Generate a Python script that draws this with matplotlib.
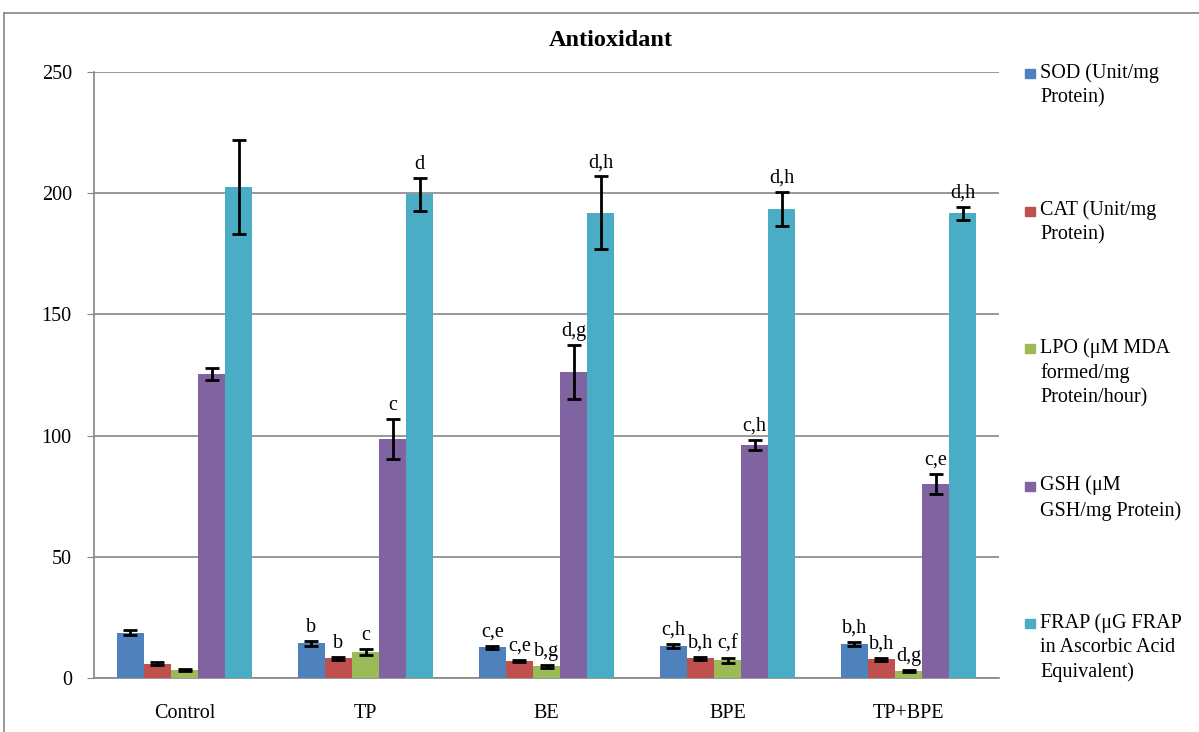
import matplotlib
matplotlib.use("Agg")
import matplotlib.pyplot as plt
from matplotlib.lines import Line2D
from matplotlib.patches import Rectangle
import numpy as np

plt.rcParams['font.family'] = ['Liberation Serif', 'DejaVu Serif']

groups = ["Control", "TP", "BE", "BPE", "TP+BPE"]
series = [
    "SOD (Unit/mg\nProtein)",
    "CAT (Unit/mg\nProtein)",
    "LPO (\u03bcM MDA\nformed/mg\nProtein/hour)",
    "GSH (\u03bcM\nGSH/mg Protein)",
    "FRAP (\u03bcG FRAP\nin Ascorbic Acid\nEquivalent)",
]
colors = ["#4F81BD", "#C0504D", "#9BBB59", "#8064A2", "#4BACC6"]

sod = [18.6, 14.4, 12.7, 13.2, 14.0]
cat = [5.8, 8.1, 7.0, 8.1, 7.8]
lpo = [3.3, 10.7, 4.8, 7.3, 2.9]
gsh = [125.4, 98.6, 126.2, 96.1, 80.0]
frap = [202.5, 199.5, 192.0, 193.5, 191.8]

sod_err = [1.0, 1.0, 0.7, 0.9, 1.0]
cat_err = [0.6, 0.6, 0.6, 0.6, 0.6]
lpo_err = [0.5, 1.4, 0.6, 1.0, 0.5]
gsh_err = [2.6, 8.3, 11.1, 2.0, 4.2]
frap_err = [19.4, 6.8, 15.0, 7.0, 2.7]

sod_lab = ["", "b", "c,e", "c,h", "b,h"]
cat_lab = ["", "b", "c,e", "b,h", "b,h"]
lpo_lab = ["", "c", "b,g", "c,f", "d,g"]
gsh_lab = ["", "c", "d,g", "c,h", "c,e"]
frap_lab = ["", "d", "d,h", "d,h", "d,h"]

values = [sod, cat, lpo, gsh, frap]
errors = [sod_err, cat_err, lpo_err, gsh_err, frap_err]
labels = [sod_lab, cat_lab, lpo_lab, gsh_lab, frap_lab]

fig = plt.figure(figsize=(11.99, 7.32), dpi=100)
W, H = 1199, 732
ax = fig.add_axes([94 / W, 1 - 678 / H, 905 / W, 606 / H])

x = np.arange(len(groups))
bw = 0.15
grid_col = "#868686"
fs = 14.5

for i, (vals, errs, labs, col) in enumerate(zip(values, errors, labels, colors)):
    pos = x + (i - 2) * bw
    ax.bar(pos, vals, width=bw, color=col, zorder=3)
    ax.errorbar(pos, vals, yerr=errs, fmt="none", ecolor="black",
                elinewidth=2, capsize=5, capthick=2, zorder=4)
    for p, v, e, t in zip(pos, vals, errs, labs):
        if t:
            ax.annotate(t, (p, v + e), xytext=(0, 3), textcoords="offset points",
                        ha="center", va="bottom", fontsize=fs, zorder=5)

ax.set_xlim(-0.5, len(groups) - 0.5)
ax.set_ylim(0, 250)
ax.set_yticks(np.arange(0, 251, 50))
ax.set_xticks(x)
ax.set_xticklabels(groups, fontsize=fs)
ax.tick_params(axis="y", labelsize=fs, length=5, color=grid_col, pad=11)
ax.tick_params(axis="x", length=0, pad=19)
ax.yaxis.grid(True, color=grid_col, linewidth=1.2, zorder=0)
ax.set_axisbelow(True)
for s in ["top", "right"]:
    ax.spines[s].set_visible(False)
for s in ["left", "bottom"]:
    ax.spines[s].set_color(grid_col)
    ax.spines[s].set_linewidth(1.2)

fig.text(611 / W, 1 - 41 / H, "Antioxidant", ha="center", va="center",
         fontsize=17.5, fontweight="bold")

# Legend entries spaced evenly down the right side
for i, (name, col) in enumerate(zip(series, colors)):
    ytop = 73 + i * 137.5
    fig.add_artist(Rectangle((1025 / W, 1 - (ytop + 5) / H), 10 / W, 9 / H,
                             transform=fig.transFigure, color=col))
    fig.text(1040 / W, 1 - (ytop - 10) / H, name, ha="left", va="top",
             fontsize=fs, linespacing=1.38)

# Outer chart frame
fig.add_artist(Line2D([4 / W, 4 / W], [0, 1 - 13 / H], color=grid_col,
                      linewidth=1.2, transform=fig.transFigure))
fig.add_artist(Line2D([4 / W, 1], [1 - 13 / H, 1 - 13 / H], color=grid_col,
                      linewidth=1.2, transform=fig.transFigure))

fig.savefig("out.png", dpi=100)
